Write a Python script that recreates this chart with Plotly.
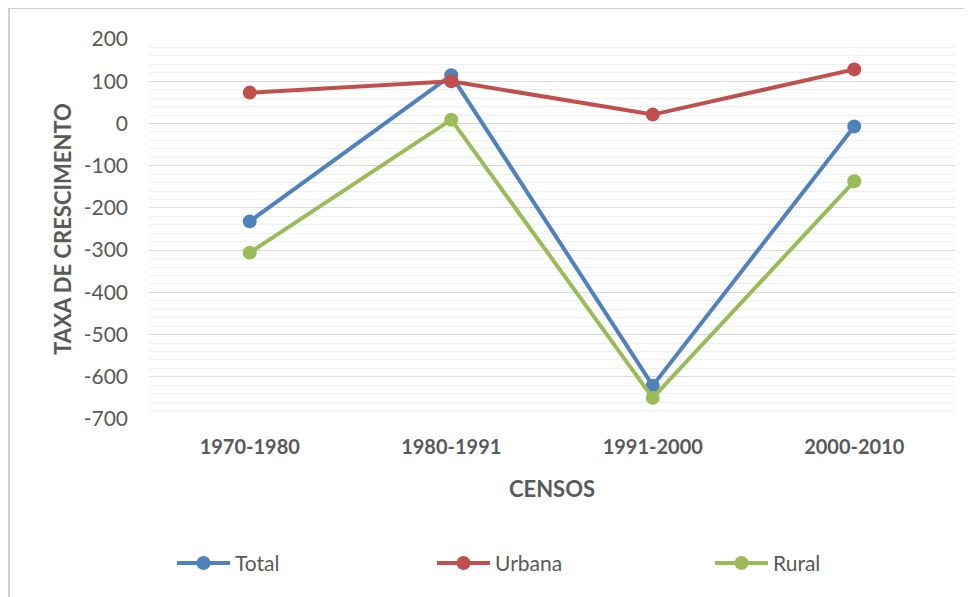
import plotly.graph_objects as go

categories = ["1970-1980", "1980-1991", "1991-2000", "2000-2010"]
total = [-232, 114, -621, -7]
urbana = [73, 100, 21, 128]
rural = [-306, 9, -650, -137]
y_ticks = [200, 100, 0, -100, -200, -300, -400, -500, -600, -700]

colors = {"Total": "#4F81BD", "Urbana": "#C0504D", "Rural": "#9BBB59"}
FONT = "Lato, 'Open Sans', sans-serif"
GRAY = "#595959"

# the page body has an 8px margin, so margins are compensated
PW, PH = 806, 380
legend_x = {"Total": (178 - 6 - 149) / PW, "Urbana": (438 - 6 - 149) / PW, "Rural": (716 - 6 - 149) / PW}
legend_ids = {"Total": "legend", "Urbana": "legend2", "Rural": "legend3"}

fig = go.Figure()
for name, vals in [("Total", total), ("Urbana", urbana), ("Rural", rural)]:
    fig.add_trace(go.Scatter(
        x=categories, y=vals, name=name, mode="lines+markers",
        line=dict(color=colors[name], width=4),
        marker=dict(color=colors[name], size=14),
        legend=legend_ids[name],
    ))

def leg(name):
    return dict(
        orientation="h", x=legend_x[name], xanchor="left", y=-0.326, yanchor="top",
        itemwidth=53, font=dict(size=21, color=GRAY, family=FONT),
        bgcolor="rgba(0,0,0,0)",
    )

fig.update_layout(
    width=972, height=597,
    margin=dict(l=141, r=25, t=31, b=186, autoexpand=False),
    paper_bgcolor="white", plot_bgcolor="white",
    font=dict(family=FONT, color=GRAY, size=20),
    showlegend=True,
    legend=leg("Total"), legend2=leg("Urbana"), legend3=leg("Rural"),
    xaxis=dict(
        type="category", range=[-0.5, 3.5],
        showgrid=False, showline=False, zeroline=False, ticks="",
        tickfont=dict(size=20, color=GRAY, family=FONT, weight="bold"),
        ticklabelstandoff=14,
        title=dict(text="<b>CENSOS</b>", font=dict(size=22, color=GRAY, family=FONT), standoff=24),
    ),
    yaxis=dict(
        range=[-700, 200], tickvals=y_ticks, ticktext=[str(v) for v in y_ticks],
        showgrid=True, gridcolor="#D9D9D9", gridwidth=1,
        zeroline=False, showline=False, ticks="",
        ticklabelstandoff=20,
        tickfont=dict(size=21, color=GRAY, family=FONT),
        minor=dict(dtick=20, tick0=0, showgrid=True, gridcolor="#F0F0F0", gridwidth=1),
        title=dict(text="<b>TAXA DE CRESCIMENTO</b>", font=dict(size=22, color=GRAY, family=FONT), standoff=5),
    ),
    shapes=[dict(type="rect", xref="paper", yref="paper",
                 x0=-140 / PW, x1=1.1, y0=-0.6, y1=1 + 31 / PH,
                 line=dict(color="#BFBFBF", width=1.5), fillcolor="rgba(0,0,0,0)", layer="below")],
)

fig.write_html("out.html")
